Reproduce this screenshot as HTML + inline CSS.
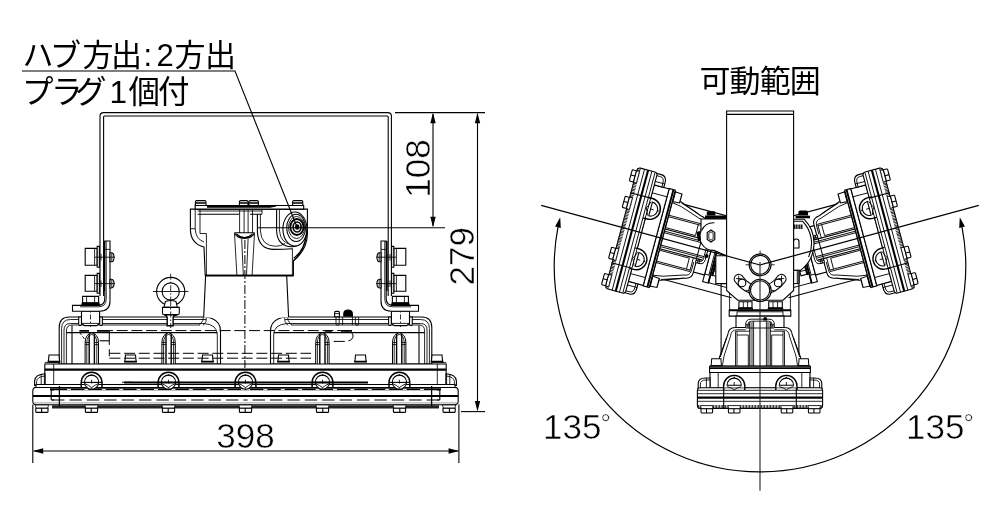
<!DOCTYPE html>
<html lang="ja">
<head>
<meta charset="utf-8">
<title>外形寸法図</title>
<style>
html,body{margin:0;padding:0;background:#fff;}
body{width:1000px;height:530px;overflow:hidden;}
svg{display:block;will-change:transform;}
.l{fill:none;stroke:#000;stroke-width:1.1;}
.t{fill:none;stroke:#000;stroke-width:.85;}
.k{fill:none;stroke:#000;stroke-width:1.7;}
.w{fill:#fff;stroke:#000;stroke-width:1.1;}
.wt{fill:#fff;stroke:#000;stroke-width:.7;}
.d{fill:none;stroke:#000;stroke-width:1;stroke-dasharray:11 3.7;}
.c{fill:none;stroke:#000;stroke-width:.8;stroke-dasharray:9 2 2 2;}
.b{fill:#000;stroke:none;}
text{font-family:"Liberation Sans","Noto Sans CJK JP",sans-serif;fill:#000;}
.jp{font-size:30px;}
.num{font-size:35px;stroke:#fff;stroke-width:.5;}
</style>
</head>
<body>
<svg width="1000" height="530" viewBox="0 0 1000 530">
<rect x="0" y="0" width="1000" height="530" fill="#fff"/>
<!-- 20_left_defs.svg -->
<defs>
<!-- bolt hole seen on base (centered at 0,0) -->
<g id="hole">
<path d="M-10.4,1.4 V0 A10.4,10.4 0 0 1 10.4,0 V1.4 Z" fill="#fff" stroke="none"/>
<path class="l" d="M-10.4,4.8 V0 A10.4,10.4 0 0 1 10.4,0 V4.8" style="stroke-width:1.5"/>
<circle class="w" cx="0" cy="-.4" r="7.1"/>
<path class="l" d="M-10,-.2 H10"/>
<path class="t" d="M-6.6,1.2 Q-3,2.4 0,5 Q3,2.4 6.6,1.2 M0,-2.8 V1"/>
<path class="b" d="M-.6,-8.4 h1.2 v1.2 h-1.2z M-.6,4.8 h1.2 v1.2 h-1.2z"/>
</g>
<!-- bolt hole seen on side view -->
<g id="hole2">
<path d="M-10.6,1.4 V0 A10.6,10.6 0 0 1 10.6,0 V1.4 Z" fill="#fff" stroke="none"/>
<path class="l" d="M-10.6,4 V0 A10.6,10.6 0 0 1 10.6,0 V4" style="stroke-width:1.4"/>
<path class="w" d="M-7.1,-.8 A7.1,7.1 0 0 1 7.1,-.8 Z"/>
<path class="t" d="M-7.1,.6 Q-3,1.6 0,3.8 Q3,1.6 7.1,.6 M0,-4 V-.8"/>
<path class="b" d="M-.6,-9.2 h1.2 v1.2 h-1.2z"/>
</g>
<!-- foot (bolt head) top-left at 0,0 -->
<g id="foot">
<path class="w" d="M-0.6,-3.2 L0.4,0 H11.8 L12.8,-3.2 Z" style="stroke-width:.8"/>
<path class="w" d="M0,0 H12.2 V3.2 Q12.2,4.2 11.2,4.2 H1 Q0,4.2 0,3.2 Z" style="stroke-width:1.1"/>
<path class="l" d="M5.8,0 V4.2"/>
</g>
<!-- rib (fin) centered x=0, bottom y=0, height 31.5 -->
<g id="rib">
<path class="w" d="M-6.7,0 V-21.5 A6.7,9.6 0 0 1 6.7,-21.5 V0" style="stroke-width:1"/>
<path class="t" d="M-5,0 V-21.5 A5,8 0 0 1 5,-21.5 V0"/>
<path d="M-2.6,0 V-30 M2.6,0 V-30" fill="none" stroke="#000" stroke-width="1.4"/>
<path class="t" d="M-6.7,-21.5 H-2.6 M2.6,-21.5 H6.7 M-6.7,-19.4 H-2.6 M2.6,-19.4 H6.7"/>
</g>
<!-- small block on flange: centered x=0, bottom y=0 -->
<g id="blk">
<path class="w" d="M-5.6,0 L-5,-6.6 H5 L5.6,0 Z"/>
<path class="k" d="M-6.4,0 H6.4"/>
</g>
</defs>

<!-- 21_left_half.svg -->
<defs>
<g id="lhalf">
<!-- housing (upper casting) -->
<path class="w" d="M59.2,364 V327.5 Q59.2,317 69.5,317 H203.5 Q207.5,317 212,318.5 Q220.5,322 220.5,331 V364 Z"/>
<path class="t" d="M61.6,364 V328.5 Q61.6,319.5 70.5,319.5 H206"/>
<path class="t" d="M64,364 V330 Q64,323.5 70.5,323.5 H204 Q217.3,324.5 217.3,335 V364"/>
<path class="t" d="M66.4,364 V331 Q66.4,325 72,325 H200"/>
<path class="l" d="M72,325.5 V364"/>
<path class="l" d="M66.4,332.6 H217.3"/>
<!-- fillet at column foot -->
<path class="t" d="M203.6,316 Q204,321 199.5,325 M206.5,317.4 Q207,322 203,325.5"/>
<!-- boss under bracket -->
<path class="w" d="M78.7,317 V324 Q78.7,325.6 79.9,325.6 Q81.2,325.6 81.5,324 V317 Z M99.6,317 V324 Q99.9,325.6 101.2,325.6 Q102.4,325.6 102.4,324 V317 Z"/>
<path class="w" d="M81.5,311.2 H99.6 V323.4 L96.6,325.6 H84.5 L81.5,323.4 Z"/>
<path class="t" d="M81.5,323.4 H99.6"/>
<path class="c" d="M90.5,304 V327" style="stroke-dasharray:5 2 1.5 2"/>
<path class="w" d="M72.5,305.4 H98 Q104.8,305.4 104.8,298.6 V241 H110 V301 Q110,311.2 99.8,311.2 H72.5 Z"/>
<path class="t" d="M106.2,241 V299 Q106.2,306.8 98.5,306.8 H80 M104.8,249.4 H110"/>
<path d="M104.2,241 V291" fill="none" stroke="#000" stroke-width="1.6"/>
<path class="w" d="M82.6,296.4 H98.6 V302.8 H82.6 Z"/>
<path class="t" d="M86.6,296.4 V302.8 M94.6,296.4 V302.8"/>
<path class="k" d="M81.6,303.4 H99.6 M81.2,305 H100"/>
<!-- bolts through arm -->
<path class="w" d="M85.2,248.4 H97.2 V265.2 H85.2 Z M85.2,275.4 H97.2 V291.2 H85.2 Z"/>
<path class="w" d="M97.2,246.4 H99.4 V267.2 H97.2 Z M97.2,273.4 H99.4 V293.2 H97.2 Z"/>
<path class="t" d="M94.6,248.4 V265.2 M94.6,275.4 V291.2"/>
<path class="w" d="M110,252.8 H111.6 Q114,253 114,257.3 Q114,261.6 111.6,261.8 H110 Z M110,279.2 H111.6 Q114,279.4 114,283.6 Q114,287.8 111.6,288 H110 Z"/>
<path class="t" d="M111.8,253 V261.6 M111.8,279.4 V287.8 M95,257.2 H115 M95,283.6 H115 M101,254 V260.6 M104,254 V260.6 M101,280.4 V287 M104,280.4 V287"/>
<!-- ribs -->
<use href="#rib" x="91.8" y="364"/>
<use href="#rib" x="168.6" y="364"/>
<!-- flange blocks -->
<use href="#blk" x="54" y="361.6"/>
<use href="#blk" x="130.5" y="361.6"/>
<use href="#blk" x="207.5" y="361.6"/>
<!-- flange & mid body -->
<path d="M44.8,364 H246 V387 H44.8 Z" fill="#fff" stroke="none"/>
<path class="l" d="M246,364 H44.8 V387 H246"/>
<path d="M44.8,369.7 H246" fill="none" stroke="#000" stroke-width="2.2"/>
<path class="t" d="M53.7,364 V386 M44.8,362.6 H59"/>
<!-- ear -->
<path class="w" d="M34.6,385.4 V381 Q35,374.4 45,373.8 V385.4 Z"/>
<path class="t" d="M36.6,385.4 V381.5 Q37,376.6 45,376 M41.2,374.8 V386 M44.4,374 V386"/>
<!-- base body -->
<path d="M36,384.5 H246 V404.8 H36.4 Q32.8,404.8 32.8,401 V391 Q32.8,387.6 36,387.4 Z" fill="#fff" stroke="none"/>
<path class="l" d="M246,384.5 H36 V387.4 Q32.8,387.6 32.8,391 V401 Q32.8,404.8 36.4,404.8 H246"/>
<path class="l" d="M35,387.5 H246"/>
<path d="M50,389.3 H246" fill="none" stroke="#000" stroke-width="2"/>
<path d="M67,389.4 H246" fill="none" stroke="#fff" stroke-width="1" stroke-dasharray="4 13.4"/>
<path d="M33,396 H246" fill="none" stroke="#000" stroke-width="2.2"/>
<path d="M52,400 H246" fill="none" stroke="#555" stroke-width="1.4" stroke-dasharray="12.4 5"/>
<path d="M33.4,402.9 H246" fill="none" stroke="#888" stroke-width=".8"/>
<path d="M52,406.8 H246" fill="none" stroke="#222" stroke-width="3.2"/>
<path class="l" d="M51.2,390 V400 M51.2,390 H54 M51.2,400 H54"/>
<path d="M59.4,386 V406.4" fill="none" stroke="#000" stroke-width="1.3"/>
<!-- holes -->
<use href="#hole" x="91.6" y="382.6"/>
<use href="#hole" x="168.5" y="382.6"/>
<!-- feet -->
<use href="#foot" x="35.8" y="408.2"/>
<use href="#foot" x="85.4" y="408.2"/>
<use href="#foot" x="162.4" y="408.2"/>
</g>
</defs>

<!-- 30_left_view.svg -->
<g id="leftview">
<!-- U arm -->
<path class="l" d="M100,296 V116.2 Q100,112.6 103.6,112.6 H387.8 Q391.4,112.6 391.4,116.2 V296"/>
<path class="l" d="M103.6,296 V117 Q103.6,116 104.6,116 H387.2 Q388.2,116 388.2,117 V296"/>
<use href="#lhalf"/>
<use href="#lhalf" transform="translate(491 0) scale(-1 1)"/>
<use href="#hole" x="245.5" y="382.6"/>
<use href="#foot" x="239.4" y="408.2"/>
</g>

<!-- 32_left_center.svg -->
<g id="leftcenter">
<!-- column -->
<path class="w" d="M205.6,276 L203.7,317.4 H288.6 L286.7,276 Z" style="stroke:none"/>
<path class="l" d="M205.6,276 L203.7,317 M286.7,276 L288.6,317"/>
<!-- terminal box -->
<path class="w" d="M190.4,209.1 H307.4 V234 Q307.4,240 305,246 Q301,255 293.4,260.8 V275.2 H205.2 L204,247 Q190.4,243.6 190.4,229 Z"/>
<path class="w" d="M195.2,205.5 H303.7 V209.1 H195.2 Z"/>
<path class="k" d="M205,275.6 H293.6"/>
<path class="t" d="M206.4,233.5 V275 M292.4,248.6 V275"/>
<path d="M207,206.8 H270 L276,205.6" fill="none" stroke="#000" stroke-width="1.8"/>
<path class="t" d="M195.2,209.1 V228.7 Q195.6,239 204,242 M200,209.1 V233.5 H206.4 M190.4,228.7 H195.2"/>
<path class="t" d="M197.6,211 H262 M262,209.1 V214.2"/>
<path class="l" d="M197.6,214.2 H239.4 M250,214.2 H262"/>
<!-- center boss -->
<path class="t" d="M239.6,209.1 V233 M244.1,209.1 V233 M248.1,209.1 V233 M252.5,209.1 V233"/>
<path class="l" d="M234.5,232.7 H254.5 M234.5,232.7 Q236,238.4 244.5,238.4 Q253,238.4 254.5,232.7 M236.4,234 Q244.5,241.4 252.6,234"/>
<path class="t" d="M234.5,233.5 L236.9,275 M254.5,233.5 L252.1,275 M241.7,239 L243.3,275 M248.1,239 L246.5,275"/>
<!-- J-shaped wall to hub housing -->
<path class="l" d="M257.4,214.2 V232 Q258.4,249.4 274,249.4 Q284,249.4 292.6,248.7"/>
<path class="t" d="M260.4,214.2 V231 Q261.4,246 275.6,246.3 Q281,246.2 285,243.4"/>
<!-- hub (seen at an angle) -->
<path class="l" d="M276.6,209.1 V231 Q277.6,246.6 292,246.8 Q303,246 306.8,231"/>
<path class="t" d="M279.4,209.1 V230 Q280.4,243.8 292,244.2 Q301,243.4 304.8,232"/>
<ellipse class="w" cx="294.9" cy="229" rx="12" ry="17"/>
<ellipse class="l" cx="296.1" cy="227.9" rx="9.4" ry="13.6"/>
<ellipse class="t" cx="296.5" cy="227.5" rx="8" ry="11"/>
<ellipse class="k" cx="296.9" cy="227" rx="6.6" ry="8" style="stroke-width:1.8"/>
<ellipse class="k" cx="297.1" cy="227" rx="4" ry="5"/>
<ellipse class="b" cx="297.2" cy="227" rx="2.2" ry="2.8"/>
<path class="l" d="M306.9,229.5 Q307,248 293.4,260.8 M306,235 Q304.6,250 293.6,258.2"/>
<!-- lid bolts -->
<path class="w" d="M195.4,205.5 V202 Q195.4,200.6 196.8,200.6 H204.6 Q206,200.6 206,202 V205.5 Z M239.4,205.5 V202 Q239.4,200.6 240.6,200.6 H246.8 Q248,200.6 248,202 V205.5 Z M249,205.5 V202 Q249,200.6 250.2,200.6 H257.2 Q258.4,200.6 258.4,202 V205.5 Z M292.6,205.5 V202 Q292.6,200.6 293.8,200.6 H301.6 Q302.8,200.6 302.8,202 V205.5 Z"/>
<path class="k" d="M195.6,203 H205.8 M239.6,203 H247.8 M249.2,203 H258.2 M292.8,203 H302.6"/>
<!-- eye bolt -->
<circle class="w" cx="170.7" cy="291.5" r="14.1"/>
<circle class="l" cx="170.7" cy="291.5" r="8.6"/>
<path class="t" d="M152.9,291.5 H188.5"/>
<path class="c" d="M170.7,273.7 V328" style="stroke-dasharray:6 2 1.5 2"/>
<path class="w" d="M165.4,301.6 Q170.7,299.4 176,301.6 L177.4,307.4 H163.9 Z"/>
<path class="w" d="M162.5,307.4 H179.3 V313 Q179.3,314.8 177.5,314.8 H164.3 Q162.5,314.8 162.5,313 Z"/>
<path class="w" d="M164.4,314.8 Q167,315.6 167.2,317.4 V325.8 H173.1 V317.4 Q173.4,315.6 177.4,314.8 Z" style="stroke-width:1.4"/>
<path class="c" d="M170.7,300 V328" style="stroke-dasharray:6 2 1.5 2"/>
<!-- ground screw (right) -->
<path class="w" d="M334.6,316.8 V312.4 Q334.6,311.4 335.6,311.4 H338.4 Q339.4,311.4 339.4,312.4 V316.8 Z"/>
<path class="t" d="M334.6,313.6 H339.4"/>
<path class="b" d="M343.2,316.8 V313.6 Q343.6,309.6 348,309.6 Q352.6,309.6 353,313.6 V316.8 Z"/>
<!-- little lugs below top line (right) -->
<path class="t" d="M336,317 V323.6 Q336,325.4 337.6,325.4 Q339.2,325.4 339.2,323.6 V317 M342.6,317 V325 M352.4,317 V325 M355.4,317 V323.6 Q355.4,325.4 357,325.4 Q358.6,325.4 358.6,323.6 V317"/>
<!-- long thick shadow line -->
<path d="M124,382.6 H368" fill="none" stroke="#000" stroke-width="2"/>
<path d="M122,382.2 H132" fill="none" stroke="#000" stroke-width="1" stroke-dasharray="2 1"/>
<!-- dashed hidden lines -->
<path class="d" d="M102,330.6 H343 Q353,330.6 353,336 Q353,341.4 343,341.4 H330"/>
<path class="k" d="M79.4,330.8 H89 M97,330.8 H108.8 M325,330.8 H332 M341,330.8 H352"/>
<path class="d" d="M79.6,332.4 L85.6,340.6" style="stroke-dasharray:3 2"/>
<path class="l" d="M99.6,340.8 H109"/>
<path class="d" d="M109.3,330.7 V358.3" style="stroke-dasharray:14.2 4.4 7 2"/>
<path class="d" d="M109.4,353.3 H311 M109.4,358.2 H311"/>
<!-- center line -->
<path class="c" d="M244.9,240 V368" style="stroke-width:1"/>
</g>

<!-- 40_side_defs.svg -->
<defs>
<!-- side view of the fixture; origin = pivot, axis pointing +y -->
<g id="side">
<!-- outer side lines of arm-holder -->
<path class="l" d="M-38.9,19 V94 M38.9,19 V94"/>
<path class="t" d="M-30.4,27 V46 M30.4,27 V46"/>
<!-- nuts + plate + column -->
<path class="w" d="M-21.1,36.8 H-8 V42.8 H-21.1 Z M8.7,36.8 H22.3 V42.8 H8.7 Z"/>
<path class="t" d="M-16.7,36.8 V42.8 M-12.4,36.8 V42.8 M13,36.8 V42.8 M17.6,36.8 V42.8"/>
<path class="k" d="M-22,43.6 H-7 M7.8,43.6 H23.2"/>
<path class="w" d="M-30.8,45.1 H30.8 V51.1 H-30.8 Z"/>
<path class="k" d="M-30.8,45.3 H30.8"/>
<path class="t" d="M-23,46.4 V51.1 M23,46.4 V51.1 M-23,46.8 H23"/>
<path class="w" d="M-24,51.1 H24 V63 H-24 Z"/>
<!-- housing trapezoid -->
<path class="w" d="M-42,101 L-40.4,92 L-32.3,70 Q-31.6,62.5 -25,62.5 H25 Q31.6,62.5 32.3,70 L40.4,92 L42,101 Z"/>
<path class="t" d="M-37.6,101 L-36,91 L-29.4,71 Q-29,64.8 -23,64.8 H-14.3 M37.6,101 L36,91 L29.4,71 Q29,64.8 23,64.8 H14.3"/>
<path class="t" d="M-33.6,73 L-39.6,92 M33.6,73 L39.6,92"/>
<path class="t" d="M-24.5,66.2 V101 M-23,66.2 V101 M-11.7,70 V101 M11.7,70 V101 M23,66.2 V101 M24.5,66.2 V101"/>
<path class="t" d="M-24.5,66.2 H-10.2 M10.2,66.2 H24.5 M-23,70 H-11.7 M11.7,70 H23"/>
<!-- centre rib / arch -->
<path class="w" d="M-14.3,63 V59.4 Q-14.3,54.2 -9,54.2 H9 Q14.3,54.2 14.3,59.4 V63 Z" style="stroke-width:.9"/>
<path class="t" d="M-12,63 V59.6 Q-12,56.2 -8.6,56.2 H8.6 Q12,56.2 12,59.6 V63"/>
<path class="t" d="M-14.3,59.4 H-10 M10,59.4 H14.3 M-14.3,61 H-10 M10,61 H14.3"/>
<path class="l" d="M-10.2,57 V101 M10.2,57 V101"/>
<path class="t" d="M-8,57 V101 M-6.4,56.2 V101 M6.4,56.2 V101 M8,57 V101"/>
<path class="b" d="M3.2,55.4 V54 Q3.4,52 5.2,52 Q7,52 7.2,54 V55.4 Z"/>
<!-- flange blocks -->
<use href="#blk" transform="translate(-43.7 101) scale(.92 1.1)"/>
<use href="#blk" transform="translate(43.7 101) scale(.92 1.1)"/>
<!-- flange + mid body -->
<path class="w" d="M-50.4,101.2 H50.4 V107.5 H-50.4 Z"/>
<path d="M-50.4,103.1 H50.4" fill="none" stroke="#000" stroke-width="1.9"/>
<path class="w" d="M-50,107.5 H50 V123 H-50 Z"/>
<path class="t" d="M-41.8,107.5 V123 M41.8,107.5 V123"/>
<!-- ears -->
<path class="w" d="M-61.8,125 V118.6 Q-61.8,113 -54.6,113 H-50 V125 Z M61.8,125 V118.6 Q61.8,113 54.6,113 H50 V125 Z"/>
<path class="t" d="M-59.6,125 V119 Q-59.6,115 -54,115 H-50 M59.6,125 V119 Q59.6,115 54,115 H50 M-53.6,113 V125 M53.6,113 V125"/>
<!-- base body -->
<path class="w" d="M-59.8,122.8 H59.8 Q62.6,122.8 62.6,125.6 V140.6 Q62.6,143.4 59.8,143.4 H-59.8 Q-62.6,143.4 -62.6,140.6 V125.6 Q-62.6,122.8 -59.8,122.8 Z"/>
<path class="t" d="M-62,125.3 H62 M-62.6,128.7 H62.6 M-62.6,136.3 H62.6"/>
<path d="M-62.6,132.6 H62.6" fill="none" stroke="#000" stroke-width="2.1"/>
<path d="M-61.8,141.8 H61.8" fill="none" stroke="#111" stroke-width="3.8" stroke-dasharray=".8 .7"/>
<path class="l" d="M-36.3,122.8 V144 M36.3,122.8 V144"/>
<!-- holes -->
<use href="#hole2" transform="translate(-25.8 121)"/>
<use href="#hole2" transform="translate(26.4 121)"/>
<!-- feet -->
<use href="#foot" transform="translate(-59 143.8) scale(.95 1)"/>
<use href="#foot" transform="translate(-31.6 143.8) scale(.95 1)"/>
<use href="#foot" transform="translate(21.2 143.8) scale(.95 1)"/>
<use href="#foot" transform="translate(48.4 143.8) scale(.95 1)"/>
</g>
</defs>

<!-- 50_right_view.svg -->
<g id="rightview">
<!-- rotated fixtures -->
<use href="#side" transform="translate(760 265) rotate(105)"/>
<use href="#side" transform="translate(760 265) rotate(-105)"/>
<!-- bottom fixture -->
<use href="#side" transform="translate(760 265)"/>
<!-- left side plate with hex socket -->
<path class="w" d="M701,219 H727 V256 L714,250.4 A13.5,13.5 0 0 1 701,231.4 Z"/>
<path class="l" d="M714.5,222.8 A13.5,13.5 0 0 0 701.6,230.4"/>
<path class="w" d="M711,230 L714.8,232.6 V239.4 L711,242 L707.2,239.4 V232.6 Z"/>
<path class="t" d="M711,231.8 L713.2,233.4 V238.6 L711,240.2 L708.8,238.6 V233.4 Z"/>
<path d="M705,217.2 H727" fill="none" stroke="#000" stroke-width="3.4"/>
<path class="b" d="M706.8,215.4 V212.6 Q706.8,211.2 708.2,211.2 H714 Q715.4,211.2 715.4,212.6 V215.4 Z"/>
<path class="b" d="M696.4,232 L699.8,231 L701,240 L698,241.4 Z"/>
<path class="w" d="M715.8,255.7 H727 V283.6 H715.8 Z"/>
<!-- right side: box seen from behind -->
<path class="w" d="M793.5,219.2 H804 A34,34 0 0 1 800.5,270.4 H793.5 Z"/>
<path class="l" d="M794,221.2 H802.4 A31.6,31.6 0 0 1 808.5,257"/>
<path class="b" d="M798.4,215.4 V212 Q798.4,210.4 800,210.4 H806.4 Q808,210.4 808,212 V215.4 Z"/>
<path d="M795.6,217 H810" fill="none" stroke="#000" stroke-width="2.6"/>
<path d="M794,226.8 H803" fill="none" stroke="#111" stroke-width="4.6" stroke-dasharray="1.2 .5"/>
<path class="w" d="M793.5,248 V241.6 Q793.6,239 796.2,239 Q799,239 799,241.6 V248 Z"/>
<path d="M793.5,270.4 H799.2 V283.6 H793.5 Z" fill="#fff" stroke="#000" stroke-width="1"/>
<path d="M797.2,270.4 H799.2 V283.6 H797.2 Z" fill="#555" stroke="#000" stroke-width=".6"/>
<!-- arm -->
<path class="w" d="M726.6,111 H793.6 V290.4 L783,300.2 H737.7 L726.6,290.4 Z"/>
<path class="l" d="M726.6,114.4 H793.6"/>
<!-- arc slot -->
<path class="l" d="M734.8,281.2 A30.2,30.2 0 0 0 785.4,281.2 A4.6,4.6 0 0 0 777.7,276.2 A21,21 0 0 1 742.5,276.2 A4.6,4.6 0 0 0 734.8,281.2 Z"/>
<circle class="l" cx="742" cy="282.9" r="3.8"/>
<circle class="l" cx="778.2" cy="282.9" r="3.8"/>
<path class="t" d="M736,278.6 H741.6 M738.7,275.6 V281.4 M778.6,278.6 H784.2 M781.5,275.6 V281.4"/>
<circle class="l" cx="760.1" cy="264.8" r="10.9"/>
<circle class="l" cx="760.1" cy="264.8" r="9.4"/>
<path class="t" d="M745.6,264.8 H749.4 M770.8,264.8 H774.6 M760.1,250.6 V254"/>
<circle class="w" cx="760.1" cy="290.4" r="11.1"/>
<circle class="l" cx="760.1" cy="290.4" r="9.6"/>
<path class="t" d="M745.6,290.4 H749.4 M770.8,290.4 H774.6"/>
<!-- reference lines -->
<path class="l" d="M760,265 L541.2,205.4 M760,265 L978.8,205.4" style="stroke-width:1.2"/>
<path d="M760,262 V490.7" fill="none" stroke="#222" stroke-width="1.1"/>
<path class="l" d="M760,471.9 A205.6,205.6 0 0 1 558,227.2 M760,471.9 A205.6,205.6 0 0 0 962,227.2" style="stroke-width:1.2"/>
<path class="b" d="M560.2,217.3 L555.1,226.6 L560.8,227.9 Z M959.8,217.3 L964.9,226.6 L959.2,227.9 Z"/>
</g>

<!-- 90_text_dims.svg -->
<g id="labels">
<text class="jp" style="font-size:31px" y="65.8" x="22.5 50 82.5 111 143.5 156.5 174.5 205">ハブ方出:2方出</text>
<text class="jp" style="font-size:31.5px" y="103.4" x="22 51 75 109.5 128.5 158">プラグ1個付</text>
<text class="jp" style="font-size:31px" y="92.4" x="699.5 729.6 759.7 789.8">可動範囲</text>
<text class="num" x="245.5" y="447.5" text-anchor="middle">398</text>
<text class="num" transform="translate(430 168.5) rotate(-90)" text-anchor="middle">108</text>
<text class="num" transform="translate(474 256.2) rotate(-90)" text-anchor="middle">279</text>
<text class="num" x="543" y="438.5">135<tspan font-size="26" dx="-1" dy="-6.4">°</tspan></text>
<text class="num" x="906" y="438.5">135<tspan font-size="26" dx="-1" dy="-6.4">°</tspan></text>
</g>
<g id="dims">
<path class="l" d="M22,71 H235 L297,227"/>
<path class="l" d="M395,112.6 H485"/>
<path class="l" d="M433,114 V226"/>
<path class="b" d="M433,112.8 l-2.7,10.4 h5.4z M433,227.2 l-2.7,-10.4 h5.4z"/>
<path class="l" d="M257.4,227.8 H445"/>
<path class="l" d="M477.5,114 V410"/>
<path class="b" d="M477.5,112.8 l-2.7,10.4 h5.4z M477.5,411.4 l-2.7,-10.4 h5.4z"/>
<path class="l" d="M461,411.6 H485"/>
<path class="l" d="M32.8,404.6 V463 M458.9,404.6 V463"/>
<path class="l" d="M34,451 H458"/>
<path class="b" d="M32.8,451 l10.4,-2.7 v5.4z M459,451 l-10.4,-2.7 v5.4z"/>
</g>

</svg>
</body>
</html>
